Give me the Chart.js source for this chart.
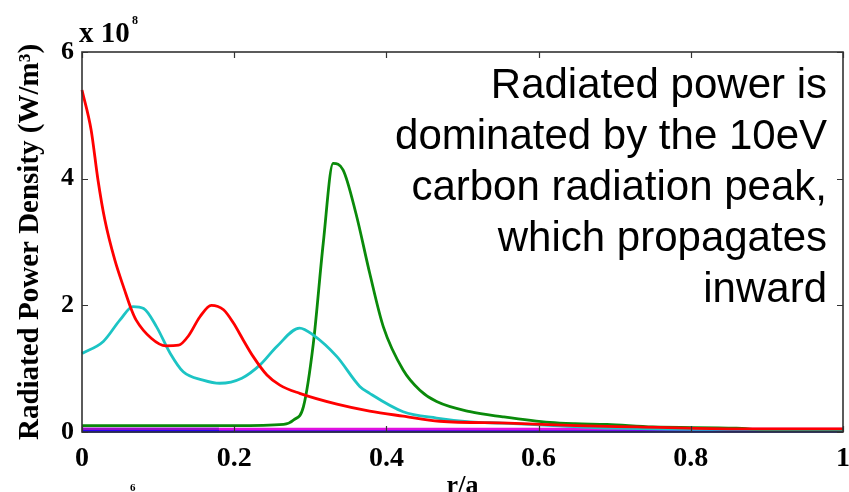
<!DOCTYPE html>
<html>
<head>
<meta charset="utf-8">
<script src="https://cdn.jsdelivr.net/npm/chart.js@4.4.1/dist/chart.umd.min.js"></script>
<style>
  html, body { margin: 0; padding: 0; background: #fff; }
  #wrap { width: 849px; height: 492px; }
</style>
</head>
<body>
<div id="wrap"><canvas id="myChart"></canvas></div>
<script>
// data (values in units of 1e8 W/m^3)
const rRed = [0, 0.012, 0.021, 0.030, 0.043, 0.056, 0.065, 0.071, 0.091, 0.110, 0.127, 0.140, 0.155, 0.170, 0.186, 0.199, 0.212, 0.225, 0.243, 0.260, 0.286, 0.335, 0.378, 0.422, 0.47, 0.56, 0.65, 0.73, 0.85, 1.0];
const vRed = [5.40, 4.77, 3.98, 3.35, 2.72, 2.24, 1.93, 1.77, 1.48, 1.36, 1.37, 1.52, 1.82, 2.00, 1.93, 1.72, 1.45, 1.19, 0.90, 0.74, 0.61, 0.44, 0.33, 0.25, 0.17, 0.14, 0.10, 0.08, 0.05, 0.05];

const rCyan = [0, 0.028, 0.05, 0.067, 0.081, 0.098, 0.116, 0.133, 0.159, 0.181, 0.210, 0.234, 0.256, 0.286, 0.304, 0.335, 0.365, 0.378, 0.422, 0.466, 0.51, 0.553, 0.62, 0.70, 0.85, 1.0];
const vCyan = [1.24, 1.43, 1.77, 1.98, 1.95, 1.66, 1.24, 0.95, 0.82, 0.77, 0.85, 1.06, 1.35, 1.64, 1.53, 1.19, 0.72, 0.61, 0.32, 0.22, 0.16, 0.14, 0.10, 0.06, 0.04, 0.04];

const rGreen = [0, 0.10, 0.20, 0.265, 0.278, 0.291, 0.304, 0.317, 0.330, 0.343, 0.360, 0.378, 0.396, 0.422, 0.444, 0.466, 0.51, 0.553, 0.615, 0.648, 0.69, 0.75, 0.86, 0.90, 1.0];
const vGreen = [0.10, 0.10, 0.10, 0.12, 0.19, 0.40, 1.40, 2.98, 4.24, 4.14, 3.45, 2.51, 1.66, 0.98, 0.66, 0.48, 0.32, 0.24, 0.15, 0.13, 0.12, 0.08, 0.06, 0.03, 0.03];

const rPurple = [0, 0.18];
const vPurple = [0.05, 0.05];
const rMagenta = [0.18, 1.0];
const vMagenta = [0.045, 0.045];
const rBlue = [0, 1.0];
const vBlue = [0.01, 0.01];

const xTicks = [0, 0.2, 0.4, 0.6, 0.8, 1];
const xTickLabels = ["0", "0.2", "0.4", "0.6", "0.8", "1"];
const yTicks = [0, 2, 4, 6];
const yTickLabels = ["0", "2", "4", "6"];

const noteLines = ["Radiated power is", "dominated by the 10eV", "carbon radiation peak,", "which propagates", "inward"];

function pts(xs, ys) {
  return xs.map((x, i) => ({ x: x, y: ys[i] }));
}

function line(xs, ys, color) {
  return {
    data: pts(xs, ys),
    borderColor: color,
    backgroundColor: color,
    borderWidth: 2.8,
    pointRadius: 0,
    tension: 0,
    cubicInterpolationMode: "monotone",
    clip: 4,
  };
}

const serif = "'Liberation Serif', 'Times New Roman', serif";

// frame, inward ticks, exponent label and the note
const extras = {
  id: "extras",
  afterDatasetsDraw(chart) {
    const ctx = chart.ctx;
    const a = chart.chartArea;
    const xs = chart.scales.x, ys = chart.scales.y;
    ctx.save();
    ctx.strokeStyle = "#333";
    ctx.lineWidth = 1.6;
    ctx.strokeRect(a.left, a.top, a.right - a.left, a.bottom - a.top);
    ctx.lineWidth = 1.2;
    ctx.beginPath();
    xTicks.forEach(v => {
      const px = Math.round(xs.getPixelForValue(v)) + 0.5;
      ctx.moveTo(px, a.bottom); ctx.lineTo(px, a.bottom - 6);
      ctx.moveTo(px, a.top); ctx.lineTo(px, a.top + 6);
    });
    yTicks.forEach(v => {
      const py = Math.round(ys.getPixelForValue(v)) + 0.5;
      ctx.moveTo(a.left, py); ctx.lineTo(a.left + 6, py);
      ctx.moveTo(a.right, py); ctx.lineTo(a.right - 6, py);
    });
    ctx.stroke();

    // x 10^8
    ctx.fillStyle = "#000";
    ctx.textBaseline = "alphabetic";
    ctx.textAlign = "left";
    ctx.font = "bold 29px " + serif;
    ctx.fillText("x 10", 79, 42);
    ctx.font = "bold 12px " + serif;
    ctx.fillText("8", 132, 24);
    // stray fragment at bottom
    ctx.font = "bold 11px " + serif;
    ctx.fillText("6", 130, 491);

    // annotation
    ctx.font = "42px 'Liberation Sans', Arial, sans-serif";
    ctx.textAlign = "right";
    noteLines.forEach((t, i) => ctx.fillText(t, 827, 98 + i * 51));
    ctx.restore();
  }
};

const config = {
  type: "line",
  data: {
    datasets: [
      line(rRed, vRed, "#ff0000"),
      line(rCyan, vCyan, "#1cc4c4"),
      line(rGreen, vGreen, "#0a8a0a"),
      line(rPurple, vPurple, "#9a10c8"),
      line(rMagenta, vMagenta, "#e010e0"),
      line(rBlue, vBlue, "#0000ff"),
    ],
  },
  options: {
    responsive: true,
    maintainAspectRatio: false,
    animation: false,
    events: [],
    layout: { padding: { top: 52, right: 6, left: 0, bottom: 0 } },
    plugins: { legend: { display: false }, tooltip: { enabled: false } },
    scales: {
      x: {
        type: "linear",
        min: 0, max: 1,
        grid: { display: false, drawTicks: false },
        border: { display: false },
        afterBuildTicks: s => { s.ticks = xTicks.map(v => ({ value: v })); },
        afterFit: s => { s.height = 60; s.paddingLeft = 0; s.paddingRight = 0; },
        ticks: {
          padding: 10,
          color: "#000",
          font: { family: serif, weight: "bold", size: 28 },
          callback: v => xTickLabels[xTicks.indexOf(v)],
        },
        title: {
          display: true,
          text: "r/a",
          color: "#000",
          padding: { top: 0, bottom: -10 },
          font: { family: serif, weight: "bold", size: 26 },
        },
      },
      y: {
        type: "linear",
        min: 0, max: 6,
        grid: { display: false, drawTicks: false },
        border: { display: false },
        afterBuildTicks: s => { s.ticks = yTicks.map(v => ({ value: v })); },
        afterFit: s => { s.width = 82; s.paddingTop = 0; s.paddingBottom = 0; },
        ticks: {
          padding: 8,
          color: "#000",
          font: { family: serif, weight: "bold", size: 26 },
          callback: v => yTickLabels[yTicks.indexOf(v)],
        },
        title: {
          display: true,
          text: "Radiated Power Density (W/m\u00b3)",
          color: "#000",
          padding: { top: 13, bottom: 0 },
          font: { family: serif, weight: "bold", size: 29 },
        },
      },
    },
  },
  plugins: [extras],
};

var myChart = new Chart(document.getElementById("myChart"), config);
</script>
</body>
</html>
